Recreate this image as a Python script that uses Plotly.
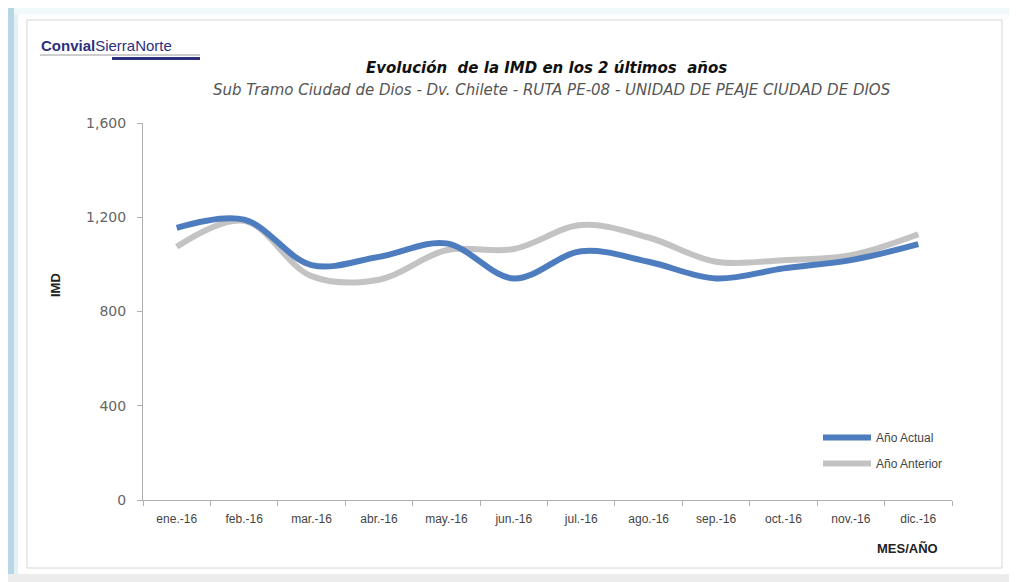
import plotly.graph_objects as go

meses = ["ene.-16", "feb.-16", "mar.-16", "abr.-16", "may.-16", "jun.-16",
         "jul.-16", "ago.-16", "sep.-16", "oct.-16", "nov.-16", "dic.-16"]
anio_actual = [1155, 1190, 997, 1032, 1089, 940, 1056, 1011, 940, 983, 1018, 1086]
anio_anterior = [1075, 1185, 950, 935, 1060, 1065, 1167, 1114, 1011, 1018, 1039, 1128]
y_ticks = [0, 400, 800, 1200, 1600]

W, H = 1017, 582
OFF = 8  # page body margin offset
# target page-pixel plot box: x 143..952, y 123..500
L, T = 143 - OFF, 123 - OFF
R, B = W - (952 - OFF), H - (500 - OFF)
PW, PH = W - L - R, H - T - B

def px(x):
    return (x - OFF - L) / PW

def py(y):
    return (H - B - (y - OFF)) / PH

fig = go.Figure()
fig.add_trace(go.Scatter(
    x=meses, y=anio_anterior, name="Año Anterior", mode="lines",
    line=dict(color="#c3c3c3", width=6, shape="spline", smoothing=1.0),
    legend="legend2"))
fig.add_trace(go.Scatter(
    x=meses, y=anio_actual, name="Año Actual", mode="lines",
    line=dict(color="#4d7dbf", width=6, shape="spline", smoothing=1.0),
    legend="legend"))

tick_font = dict(family="Liberation Sans Narrow, Liberation Sans, sans-serif", size=12, color="#444")

fig.update_layout(
    width=W, height=H,
    margin=dict(l=L, r=R, t=T, b=B, autoexpand=False),
    paper_bgcolor="white", plot_bgcolor="white",
    xaxis=dict(type="category", range=[-0.5, 11.5], showgrid=False,
               showline=True, linecolor="#b0b0b0", linewidth=1,
               ticks="outside", tickson="boundaries", ticklen=5, tickcolor="#b0b0b0",
               tickfont=tick_font, ticklabelstandoff=8),
    yaxis=dict(range=[0, 1600], tickvals=y_ticks, tickformat=",", showgrid=False,
               showline=True, linecolor="#b0b0b0", linewidth=1,
               ticks="outside", ticklen=5, tickcolor="#b0b0b0",
               tickfont=dict(family="DejaVu Sans, sans-serif", size=14, color="#666"),
               ticklabelstandoff=8, zeroline=False),
    legend=dict(x=px(818), y=py(423), xanchor="left", yanchor="top",
                bgcolor="rgba(0,0,0,0)", font=tick_font, itemwidth=48),
    legend2=dict(x=px(818), y=py(449), xanchor="left", yanchor="top",
                 bgcolor="rgba(0,0,0,0)", font=tick_font, itemwidth=48),
    showlegend=True,
)

def px_rect(x0, y0, x1, y1, fill=None, line=None, lw=1):
    fig.add_shape(type="rect", xref="paper", yref="paper",
                  x0=px(x0), x1=px(x1), y0=py(y1), y1=py(y0),
                  fillcolor=fill if fill else "rgba(0,0,0,0)",
                  line=dict(color=line if line else "rgba(0,0,0,0)", width=lw if line else 0),
                  layer="below")

def line_px(x0, y0, x1, y1, color, w):
    fig.add_shape(type="line", xref="paper", yref="paper",
                  x0=px(x0), x1=px(x1), y0=py(y0), y1=py(y1),
                  line=dict(color=color, width=w))

# Page-like frame
px_rect(0, 0, W + 10, 14, fill="#f1f8fa")
px_rect(0, 0, 14, H + 10, fill="#b8d7e5")
px_rect(14, 14, 18, H + 10, fill="#e3f0f5")
px_rect(18, 14, W + 10, 20, fill="#fbfdfe")
px_rect(27, 20, 1002, 568, fill="white", line="#d6d6d6", lw=1)
px_rect(0, 574, W + 10, H + 10, fill="#ececec")

# Logo
fig.add_annotation(xref="paper", yref="paper", x=px(39), y=py(45),
                   xanchor="left", yanchor="middle", showarrow=False,
                   text="<b>Convial</b>SierraNorte",
                   font=dict(family="Liberation Sans Narrow, Liberation Sans, sans-serif", size=15, color="#2d2f7f"))
line_px(40, 55, 200, 55, "#9a9a9a", 1)
line_px(112, 58.5, 200, 58.5, "#2d2f7f", 3)

# Titles
fig.add_annotation(xref="paper", yref="paper", x=px(546), y=py(68),
                   xanchor="center", yanchor="middle", showarrow=False,
                   text="<b><i>Evolución  de la IMD en los 2 últimos  años</i></b>",
                   font=dict(family="DejaVu Sans, sans-serif", size=15, color="#111"))
fig.add_annotation(xref="paper", yref="paper", x=px(552), y=py(90),
                   xanchor="center", yanchor="middle", showarrow=False,
                   text="<i>Sub Tramo Ciudad de Dios - Dv. Chilete - RUTA PE-08 - UNIDAD DE PEAJE CIUDAD DE DIOS</i>",
                   font=dict(family="DejaVu Sans, sans-serif", size=15, color="#555"))

# Axis titles
fig.add_annotation(xref="paper", yref="paper", x=px(55), y=py(285),
                   xanchor="center", yanchor="middle", showarrow=False, textangle=-90,
                   text="<b>IMD</b>", font=dict(family="Liberation Sans, sans-serif", size=13, color="#222"))
fig.add_annotation(xref="paper", yref="paper", x=px(940), y=py(548),
                   xanchor="right", yanchor="middle", showarrow=False,
                   text="<b>MES/AÑO</b>", font=dict(family="Liberation Sans Narrow, Liberation Sans, sans-serif", size=13, color="#222"))

fig.write_html("out.html")
